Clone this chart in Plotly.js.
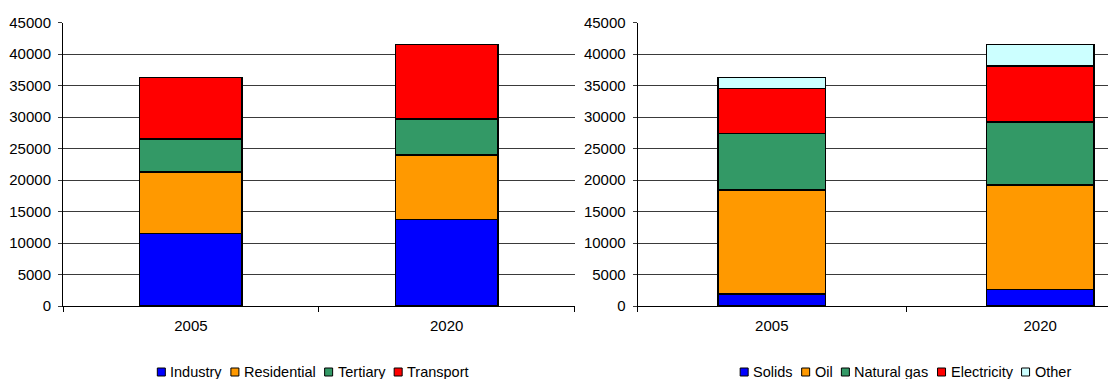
<!DOCTYPE html>
<html>
<head>
<meta charset="utf-8">
<script src="https://cdn.plot.ly/plotly-3.0.1.min.js"></script>
<style>
  html, body { margin: 0; padding: 0; background: #fff; overflow: hidden; }
  #chart { width: 1108px; height: 379px; }
</style>
</head>
<body>
<div id="chart"></div>
<script>
// Years on the category axis
const years = ['2005', '2020'];

// Final energy demand by sector
const sectorNames = ['Industry', 'Residential', 'Tertiary', 'Transport'];
const industry = [11500, 13700];
const residential = [9800, 10300];
const tertiary = [5200, 5700];
const transport = [9800, 11800];

// Final energy demand by fuel
const fuelNames = ['Solids', 'Oil', 'Natural gas', 'Electricity', 'Other'];
const solids = [1900, 2600];
const oil = [16500, 16600];
const naturalGas = [9000, 10000];
const electricity = [7100, 8900];
const other = [1800, 3400];

// Value axis ticks
const yTickVals = [0, 5000, 10000, 15000, 20000, 25000, 30000, 35000, 40000, 45000];

const W = 1108, H = 379;
const FONT = '"Liberation Sans", Arial, sans-serif';
const palette = ['#0000FF', '#FF9900', '#339966', '#FF0000', '#CCFFFF'];

const px = x => x / W;
const py = y => 1 - y / H;

function stackTraces(names, series, xa, ya) {
  return series.map((vals, i) => ({
    type: 'bar',
    name: names[i],
    x: years,
    y: vals,
    xaxis: xa,
    yaxis: ya,
    marker: { color: palette[i], line: { color: '#000', width: 1.5 } },
    showlegend: false,
    hoverinfo: 'skip'
  }));
}

const data = [
  ...stackTraces(sectorNames, [industry, residential, tertiary, transport], 'x', 'y'),
  ...stackTraces(fuelNames, [solids, oil, naturalGas, electricity, other], 'x2', 'y2')
];

const tickFont = { family: FONT, size: 15, color: '#000' };
const yDomain = [py(306), py(22.5)];

function valueAxis(anchor) {
  return {
    domain: yDomain,
    anchor: anchor,
    range: [0, 45000],
    tickvals: yTickVals,
    tickformat: 'd',
    showgrid: true,
    gridcolor: '#3a3a3a',
    gridwidth: 1,
    zeroline: false,
    showline: true,
    linecolor: '#000',
    linewidth: 1,
    ticks: 'outside',
    ticklen: 4,
    tickcolor: '#3a3a3a',
    tickfont: tickFont,
    ticklabelstandoff: 4,
    fixedrange: true
  };
}

function categoryAxis(anchor, domain, range) {
  return {
    type: 'category',
    domain: domain,
    anchor: anchor,
    range: range,
    tickson: 'boundaries',
    ticks: 'outside',
    ticklen: 5,
    tickcolor: '#000',
    showline: true,
    linecolor: '#000',
    linewidth: 1,
    showgrid: false,
    tickfont: tickFont,
    ticklabelstandoff: 6,
    fixedrange: true
  };
}

// Compact legend rows: small outlined swatch, then the label
const measure = document.createElement('canvas').getContext('2d');
const LEG_SIZE = 14.5;
measure.font = LEG_SIZE + 'px "Liberation Sans"';

const shapes = [];
const annotations = [];

function legendRow(names, cx, cy) {
  const sw = 8, gapText = 5, gapItem = 9;
  const widths = names.map(n => measure.measureText(n).width);
  const total = widths.reduce((s, w) => s + sw + gapText + w, 0) + gapItem * (names.length - 1);
  let x = cx - total / 2;
  names.forEach((n, i) => {
    shapes.push({
      type: 'rect', xref: 'paper', yref: 'paper',
      x0: px(x), x1: px(x + sw), y0: py(cy + sw / 2), y1: py(cy - sw / 2),
      fillcolor: palette[i], line: { color: '#000', width: 1 }
    });
    annotations.push({
      xref: 'paper', yref: 'paper', x: px(x + sw + gapText - 1), y: py(cy),
      xanchor: 'left', yanchor: 'middle', showarrow: false,
      text: n, font: { family: FONT, size: LEG_SIZE, color: '#000' }, borderpad: 0
    });
    x += sw + gapText + widths[i] + gapItem;
  });
}

legendRow(sectorNames, 313, 372);
legendRow(fuelNames, 905.5, 372);

const layout = {
  width: W,
  height: H,
  margin: { l: 0, r: 0, t: 0, b: 0 },
  paper_bgcolor: '#fff',
  plot_bgcolor: 'rgba(0,0,0,0)',
  barmode: 'stack',
  bargap: 0.6,
  showlegend: false,
  hovermode: false,
  font: { family: FONT, size: 15, color: '#000' },
  xaxis: categoryAxis('y', [px(63), px(574.5)], [-0.5, 1.5]),
  yaxis: valueAxis('x'),
  xaxis2: categoryAxis('y2', [px(637.6), 1], [-0.5, 1.2526]),
  yaxis2: valueAxis('x2'),
  shapes: shapes,
  annotations: annotations
};

Plotly.newPlot('chart', data, layout, { staticPlot: true, displayModeBar: false });
</script>
</body>
</html>
